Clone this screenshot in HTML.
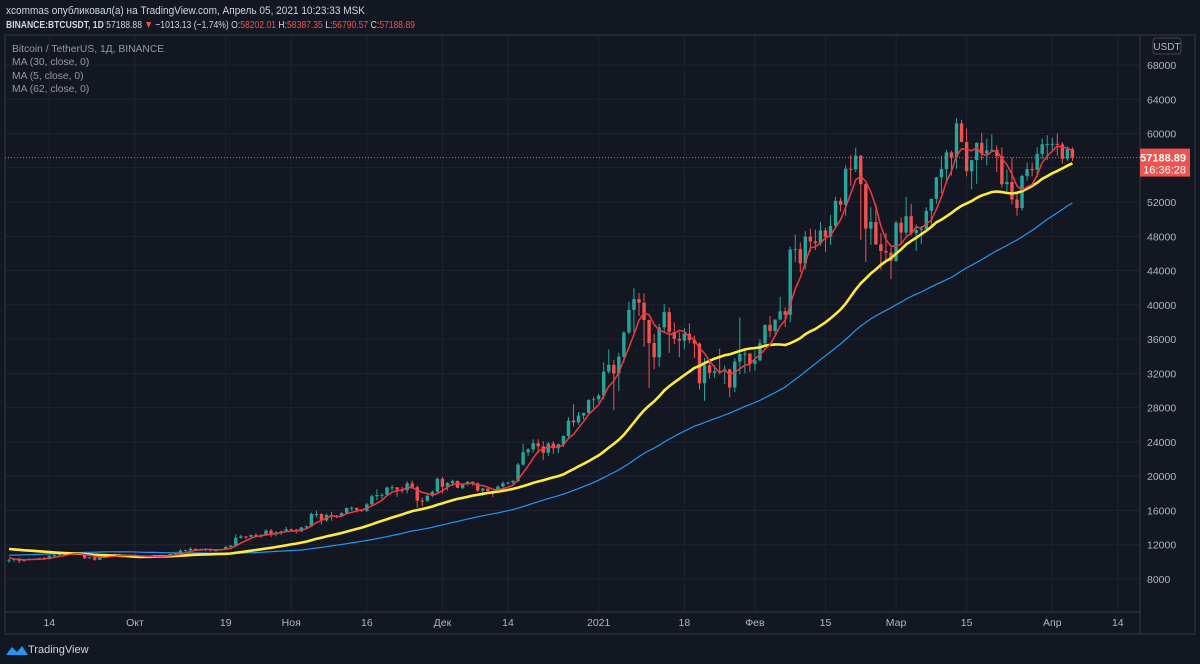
<!DOCTYPE html>
<html><head><meta charset="utf-8"><style>
body{margin:0;background:#131722;width:1200px;height:664px;overflow:hidden;font-family:"Liberation Sans","Noto Sans CJK SC",sans-serif}
svg{display:block}
</style></head><body>
<svg id="c" width="1200" height="664">
<rect x="0" y="0" width="1200" height="664" fill="#131722"/>
<text x="6" y="14" font-size="11" fill="#d1d4dc" textLength="359" lengthAdjust="spacingAndGlyphs">xcommas опубликовал(а) на TradingView.com, Апрель 05, 2021 10:23:33 MSK</text>
<text x="6" y="28" font-size="10.5" fill="#d1d4dc" textLength="409" lengthAdjust="spacingAndGlyphs"><tspan font-weight="bold">BINANCE:BTCUSDT, 1D</tspan> 57188.88 <tspan fill="#ef5350">▼</tspan> −1013.13 (−1.74%) O:<tspan fill="#ef5350">58202.01</tspan> H:<tspan fill="#ef5350">58387.35</tspan> L:<tspan fill="#ef5350">56790.57</tspan> C:<tspan fill="#ef5350">57188.89</tspan></text>
<g id="grid"></g>
<rect x="5" y="35" width="1190" height="599" fill="none" stroke="#363a45"/>
<line x1="1140" y1="35" x2="1140" y2="634" stroke="#363a45"/>
<line x1="5" y1="612" x2="1140" y2="612" stroke="#363a45"/>
<g id="marks"></g>
<text x="12" y="52" font-size="10.3" fill="#9598a1">Bitcoin / TetherUS, 1Д, BINANCE</text>
<text x="12" y="65" font-size="10.3" fill="#9598a1">MA (30, close, 0)</text>
<text x="12" y="79" font-size="10.3" fill="#9598a1">MA (5, close, 0)</text>
<text x="12" y="92" font-size="10.3" fill="#9598a1">MA (62, close, 0)</text>
<rect x="1153" y="38" width="28" height="16" rx="3" fill="none" stroke="#434651"/>
<text x="1167" y="50" font-size="10" fill="#b2b5be" text-anchor="middle">USDT</text>
<g id="yaxis"></g>
<g id="xaxis"></g>
<g><path d="M6 655 l6-8 5 5 5-6 6 9z" fill="#2196f3"/><text x="28" y="653" font-size="11" fill="#d1d4dc">TradingView</text></g>
</svg>
<script>
const preCloses=[9340,9250,9430,9230,9290,9240,9300,9240,9250,9150,9130,9150,9180,9210,9160,9390,9530,9610,9550,9710,9930,11040,10920,11100,11110,11350,
11800,11070,11230,11190,11750,11770,11600,11760,11680,11880,11410,11590,11780,11770,11860,11910,12290,11960,11760,11860,11520,11680,11650,11750,11330,11460,11320,11530,11470,11710,11680,
11970,11410,10240,10510,10170];
const closes=[10250,10370,10130,10230,10340,10390,10440,10330,10680,10790,10950,10940,10930,11080,10920,10420,10530,10240,10740,10690,10730,10770,10690,10840,10780,
10620,10570,10550,10670,10790,10600,10670,10920,11050,11300,11370,11540,11430,11430,11500,11320,11360,11500,11750,11910,12820,12970,12930,13120,13040,13070,13650,13280,13460,13560,13800,
13760,13550,14020,14150,15590,15590,14840,15480,15330,15300,15700,16280,16320,16070,15960,16720,17660,17800,17820,18680,18710,18420,18370,19160,18720,17150,17140,17720,18180,19700,
18780,19220,19440,18650,19150,19360,19170,18320,18550,18250,18040,18800,19170,19270,19440,21350,22800,23130,23860,23480,22740,23820,23250,23730,24690,26490,26280,27080,27390,28890,28990,
29410,32200,33000,31990,33950,36770,39410,40670,40240,38240,35540,33890,37370,39150,36830,36030,35820,36630,35890,35470,30850,32950,32080,32260,32250,32470,30360,33380,34270,34300,33110,
33520,35510,37660,36950,38290,39260,38830,46450,46510,44840,47970,47410,47190,48690,47940,49200,52150,51680,55890,55840,57410,54090,48900,49680,47070,46280,46100,45140,
49590,48440,50350,48370,48750,48880,50970,52380,54880,55860,57800,57220,61190,59000,55600,56900,58910,57650,58030,58100,57350,54080,54340,52300,51300,55050,55840,55780,57630,58740,58780,
58800,58730,57060,58202,57189];
const highsK=[10.35,10.45,10.48,10.35,10.48,10.42,10.47,10.58,10.8,10.95,11.1,11.05,11.03,11.18,11.1,10.99,10.57,10.58,10.8,10.77,10.8,10.95,10.96,10.87,10.88,
10.95,10.67,10.6,10.7,10.8,10.8,10.68,10.95,11.1,11.5,11.43,11.7,11.55,11.55,11.6,11.55,11.4,11.52,11.82,11.96,13.2,13.18,13.0,13.2,13.35,13.25,13.8,13.85,13.6,13.65,14.1,
13.9,13.83,14.07,14.25,15.75,15.97,15.68,15.65,15.83,15.48,15.77,16.35,16.49,16.33,16.17,16.9,17.85,18.48,18.02,18.8,18.97,18.7,18.77,19.42,19.5,18.9,17.5,17.9,18.35,19.86,
19.9,19.3,19.6,19.52,19.18,19.42,19.4,19.29,18.64,18.6,18.29,18.95,19.41,19.35,19.57,21.56,23.8,23.28,24.3,24.3,24.1,24.0,24.1,23.8,24.8,26.87,28.4,27.5,27.4,28.99,29.3,
29.6,33.3,34.8,33.6,34.4,36.94,40.37,41.95,41.38,41.35,38.26,36.6,37.8,40.1,39.7,37.95,36.85,37.3,37.85,36.4,35.6,33.8,33.45,32.95,34.88,32.9,32.56,33.78,38.53,34.93,34.38,
34.7,35.98,37.7,38.7,38.3,40.95,39.7,46.8,48.2,47.3,48.6,48.9,48.8,49.7,49.0,50.5,52.6,52.5,56.3,57.5,58.35,57.5,54.2,51.4,51.8,48.4,48.4,46.7,
49.8,50.2,52.6,51.8,49.4,49.2,51.4,52.4,54.9,57.4,58.1,58.0,61.8,61.6,60.6,56.9,58.97,60.1,59.4,59.9,58.6,58.4,55.8,57.2,53.2,55.2,56.6,56.6,58.4,59.4,59.8,
59.5,60.0,59.0,58.5,58.39];
const lowsK=[9.88,10.0,9.85,10.0,10.2,10.22,10.33,10.2,10.27,10.6,10.7,10.78,10.82,10.9,10.8,10.35,10.37,10.14,10.2,10.58,10.65,10.7,10.64,10.65,10.7,
10.57,10.45,10.48,10.5,10.65,10.52,10.58,10.65,10.82,11.0,11.2,11.22,11.3,11.3,11.25,11.2,11.25,11.3,11.4,11.68,11.88,12.7,12.7,12.88,12.95,12.8,13.05,12.9,12.98,13.13,13.5,
13.62,13.3,13.5,13.75,14.1,15.2,14.35,14.7,14.8,15.1,15.25,15.6,15.95,15.77,15.8,15.85,16.56,17.22,17.35,17.75,18.3,17.6,18.0,18.0,18.56,16.33,16.5,17.0,17.55,18.1,
18.0,18.33,18.86,18.6,18.5,18.9,18.9,18.2,17.65,18.2,17.57,18.02,18.7,19.0,19.05,19.3,21.23,22.35,22.75,22.7,21.9,22.35,22.6,22.7,23.4,24.5,25.8,26.0,26.6,27.3,27.85,
28.6,29.0,32.0,27.7,29.9,33.3,36.6,36.5,38.7,35.1,30.3,32.5,32.8,36.7,34.4,35.4,33.9,34.8,35.5,33.8,30.1,28.8,31.4,31.5,31.9,30.8,29.2,29.8,31.9,32.0,32.2,
32.3,33.4,35.4,36.2,36.6,38.2,37.4,38.0,45.0,43.8,44.1,46.2,46.4,46.9,46.2,47.0,48.9,50.9,50.4,53.9,55.5,47.6,45.0,47.0,47.0,44.1,45.1,43.0,
45.0,47.1,48.1,48.1,46.3,47.1,48.5,49.3,51.8,53.0,54.3,55.1,55.9,59.0,55.0,53.5,54.1,56.9,56.3,57.8,55.5,53.7,53.0,51.7,50.4,51.0,54.5,55.0,54.9,57.0,56.9,
57.9,57.4,56.5,56.8,56.79];
const priceTicks=[8000,12000,16000,20000,24000,28000,32000,36000,40000,44000,48000,52000,56000,60000,64000,68000];
const timeLabels=["14","Окт","19","Ноя","16","Дек","14","2021","18","Фев","15","Мар","15","Апр","14"];
const timeLabelDays=[8,25,43,56,71,86,99,117,134,148,162,176,190,207,220]; // day index from Sep 6
const lastPrice=57188.89;

const NS="http://www.w3.org/2000/svg";
const Y=v=>579-(v-8000)*0.0085667;
const X=d=>9+d*5.04;
function mk(t,a,p){const e=document.createElementNS(NS,t);for(const k in a)e.setAttribute(k,a[k]);p.appendChild(e);return e;}
const grid=document.getElementById('grid'),marks=document.getElementById('marks'),ya=document.getElementById('yaxis'),xa=document.getElementById('xaxis');
priceTicks.forEach(v=>{
  const l=mk('line',{x1:5,x2:1140,y1:Y(v),y2:Y(v),stroke:'#1f2330'},grid);
  
  
  if(v===56000) return;
  const t=mk('text',{x:1147,y:Y(v)+4,'font-size':10.5,fill:'#b2b5be'},ya);t.textContent=v;
  
  
});
timeLabels.forEach((s,i)=>{
  const x=X(timeLabelDays[i]);
  const l=mk('line',{x1:x,x2:x,y1:35,y2:612,stroke:'#1f2330'},grid);
  
  
  const t=mk('text',{x:x,y:626,'font-size':10.5,fill:'#b2b5be','text-anchor':'middle'},xa);t.textContent=s;
  
  
});
const all=preCloses.concat(closes),off=preCloses.length;
function ma(n){const pts=[];for(let i=0;i<closes.length;i++){const j=i+off;if(j-n+1<0)continue;let s=0;for(let k=j-n+1;k<=j;k++)s+=all[k];pts.push(X(i).toFixed(1)+','+Y(s/n).toFixed(1));}return pts.join(' ');}
const m62=mk('polyline',{points:ma(62),fill:'none',stroke:'#2196f3','stroke-width':1.2},marks);


closes.forEach((c,i)=>{
  const o=i?closes[i-1]:preCloses[preCloses.length-1];
  const col=c>=o?'#26a69a':'#ef5350',x=X(i);
  const w=mk('line',{x1:x,x2:x,y1:Y(highsK[i]*1000),y2:Y(lowsK[i]*1000),stroke:col,'stroke-width':1},marks);
  
  
  const top=Y(Math.max(o,c)),h=Math.max(1,Math.abs(Y(o)-Y(c)));
  const b=mk('rect',{x:x-1.7,y:top,width:3.4,height:h,fill:col},marks);
  
  
});
const m30=mk('polyline',{points:ma(30),fill:'none',stroke:'#ffeb3b','stroke-width':2.6},marks);


const m5=mk('polyline',{points:ma(5),fill:'none',stroke:'#f23645','stroke-width':1.5},marks);


const pl=mk('line',{x1:5,x2:1140,y1:Y(lastPrice),y2:Y(lastPrice),stroke:'#ef5350','stroke-dasharray':'1 2'},marks);


const pb=mk('rect',{x:1140,y:Y(lastPrice)-9,width:50,height:28,fill:'#ef5350'},ya);


const t1=mk('text',{x:1186,y:Y(lastPrice)+4,'font-size':11,fill:'#fff','text-anchor':'end','font-weight':'bold'},ya);t1.textContent=lastPrice.toFixed(2);


const t2=mk('text',{x:1186,y:Y(lastPrice)+16,'font-size':11,fill:'#fff','text-anchor':'end'},ya);t2.textContent='16:36:28';


</script>
</body></html>
